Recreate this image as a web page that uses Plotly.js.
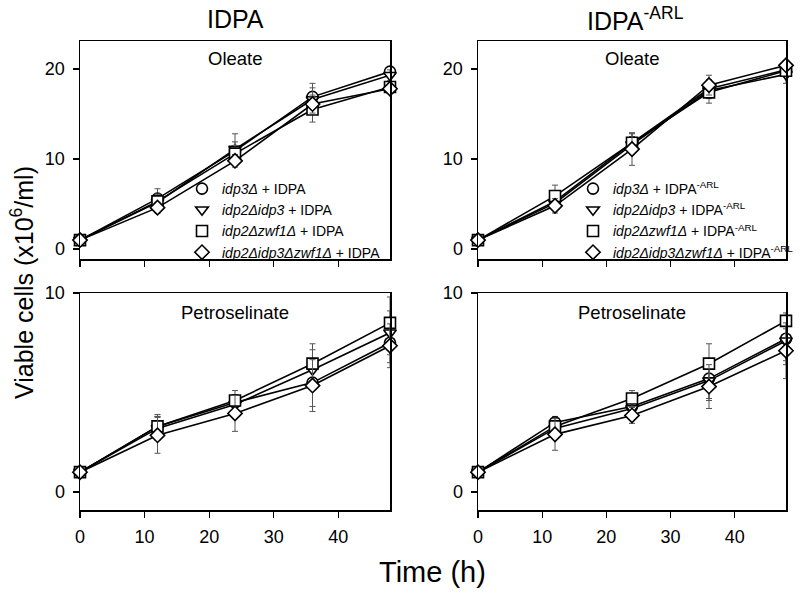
<!DOCTYPE html>
<html>
<head>
<meta charset="utf-8">
<script src="https://cdn.plot.ly/plotly-3.0.1.min.js"></script>
<style>html,body{margin:0;padding:0;background:#fff;}#chart{width:800px;height:594px;}</style>
</head>
<body>
<div id="chart"></div>
<script>
// ---- data ----
var time = [0, 12, 24, 36, 48];

var seriesSymbols = ["circle", "triangle-down", "square", "diamond"];

var legendLabelsIdpa = [
  "<i>idp3Δ</i> + IDPA",
  "<i>idp2Δidp3</i> + IDPA",
  "<i>idp2Δzwf1Δ</i> + IDPA",
  "<i>idp2Δidp3Δzwf1Δ</i> + IDPA"
];
var legendLabelsArl = [
  "<i>idp3Δ</i> + IDPA<sup>-ARL</sup>",
  "<i>idp2Δidp3</i> + IDPA<sup>-ARL</sup>",
  "<i>idp2Δzwf1Δ</i> + IDPA<sup>-ARL</sup>",
  "<i>idp2Δidp3Δzwf1Δ</i> + IDPA<sup>-ARL</sup>"
];

// Oleate, IDPA
var oleIdpa_idp3      = [1.0, 5.6, 10.9, 16.9, 19.7];
var oleIdpa_idp2idp3  = [1.0, 5.2, 11.1, 16.6, 19.3];
var oleIdpa_idp2zwf1  = [1.0, 5.3, 10.6, 15.5, 18.0];
var oleIdpa_triple    = [1.0, 4.6,  9.8, 16.1, 17.8];
var oleIdpaErr_idp3     = [0.1, 1.1, 1.0, 1.5, 0.5];
var oleIdpaErr_idp2idp3 = [0.1, 0.9, 1.7, 1.3, 0.6];
var oleIdpaErr_idp2zwf1 = [0.1, 0.8, 0.9, 1.4, 0.4];
var oleIdpaErr_triple   = [0.1, 0.6, 0.7, 1.0, 0.5];

// Oleate, IDPA-ARL
var oleArl_idp3      = [1.0, 5.3, 11.8, 17.8, 19.9];
var oleArl_idp2idp3  = [1.0, 5.1, 11.6, 17.6, 19.4];
var oleArl_idp2zwf1  = [1.0, 5.9, 11.8, 17.4, 19.8];
var oleArl_triple    = [1.0, 4.8, 11.1, 18.2, 20.4];
var oleArlErr_idp3     = [0.1, 0.8, 1.0, 1.0, 0.6];
var oleArlErr_idp2idp3 = [0.1, 0.7, 0.9, 0.9, 1.0];
var oleArlErr_idp2zwf1 = [0.1, 1.2, 1.1, 1.2, 0.5];
var oleArlErr_triple   = [0.1, 0.8, 1.8, 1.1, 0.4];

// Petroselinate, IDPA
var petIdpa_idp3      = [1.0, 3.3, 4.5, 5.5, 7.5];
var petIdpa_idp2idp3  = [1.0, 3.2, 4.4, 6.15, 8.0];
var petIdpa_idp2zwf1  = [1.0, 3.3, 4.6, 6.45, 8.5];
var petIdpa_triple    = [1.0, 2.85, 3.95, 5.35, 7.35];
var petIdpaErr_idp3     = [0.05, 0.5, 0.4, 1.2, 1.0];
var petIdpaErr_idp2idp3 = [0.05, 0.6, 0.5, 1.0, 1.1];
var petIdpaErr_idp2zwf1 = [0.05, 0.6, 0.5, 1.0, 1.3];
var petIdpaErr_triple   = [0.05, 0.9, 0.9, 1.3, 1.1];

// Petroselinate, IDPA-ARL
var petArl_idp3      = [1.0, 3.5, 4.3, 5.7, 7.7];
var petArl_idp2idp3  = [1.0, 3.2, 4.2, 5.6, 7.6];
var petArl_idp2zwf1  = [1.0, 3.3, 4.7, 6.45, 8.6];
var petArl_triple    = [1.0, 2.9, 3.85, 5.3, 7.1];
var petArlErr_idp3     = [0.05, 0.3, 0.3, 1.0, 1.1];
var petArlErr_idp2idp3 = [0.05, 0.4, 0.4, 1.0, 1.2];
var petArlErr_idp2zwf1 = [0.05, 0.4, 0.4, 1.0, 0.4];
var petArlErr_triple   = [0.05, 0.8, 0.4, 1.1, 1.4];

// tick labels
var xTicks = [0, 10, 20, 30, 40];
var yTicksTop = [0, 10, 20];
var yTicksBottom = [0, 10];

// ---- build ----
var panels = [
  {xa: "x",  ya: "y",  vals: [oleIdpa_idp3, oleIdpa_idp2idp3, oleIdpa_idp2zwf1, oleIdpa_triple],
   errs: [oleIdpaErr_idp3, oleIdpaErr_idp2idp3, oleIdpaErr_idp2zwf1, oleIdpaErr_triple]},
  {xa: "x2", ya: "y2", vals: [oleArl_idp3, oleArl_idp2idp3, oleArl_idp2zwf1, oleArl_triple],
   errs: [oleArlErr_idp3, oleArlErr_idp2idp3, oleArlErr_idp2zwf1, oleArlErr_triple]},
  {xa: "x3", ya: "y3", vals: [petIdpa_idp3, petIdpa_idp2idp3, petIdpa_idp2zwf1, petIdpa_triple],
   errs: [petIdpaErr_idp3, petIdpaErr_idp2idp3, petIdpaErr_idp2zwf1, petIdpaErr_triple]},
  {xa: "x4", ya: "y4", vals: [petArl_idp3, petArl_idp2idp3, petArl_idp2zwf1, petArl_triple],
   errs: [petArlErr_idp3, petArlErr_idp2idp3, petArlErr_idp2zwf1, petArlErr_triple]}
];

var markerStyle = function (i) {
  return {symbol: seriesSymbols[i], size: 11, color: "#fff", line: {color: "#000", width: 1.6}};
};

var traces = [];
panels.forEach(function (p) {
  for (var i = 0; i < 4; i++) {
    traces.push({
      type: "scatter", mode: "lines+markers",
      x: time, y: p.vals[i], xaxis: p.xa, yaxis: p.ya,
      showlegend: false, cliponaxis: false,
      line: {color: "#000", width: 1.6},
      marker: markerStyle(i),
      error_y: {type: "data", array: p.errs[i], visible: true, color: "#555", thickness: 1, width: 3}
    });
  }
});
// legend-only entries (markers only)
for (var i = 0; i < 4; i++) {
  traces.push({type: "scatter", mode: "markers", x: [null], y: [null], xaxis: "x", yaxis: "y",
    name: legendLabelsIdpa[i], legend: "legend", marker: markerStyle(i)});
}
for (var i = 0; i < 4; i++) {
  traces.push({type: "scatter", mode: "markers", x: [null], y: [null], xaxis: "x2", yaxis: "y2",
    name: legendLabelsArl[i], legend: "legend2", marker: markerStyle(i)});
}

var W = 800, H = 594;
function px(x) { return x / W; }
function py(y) { return 1 - y / H; }

var axisBase = {
  showline: true, mirror: true, linecolor: "#000", linewidth: 1.5,
  ticks: "outside", ticklen: 6, tickwidth: 1.3, tickcolor: "#000",
  showgrid: false, zeroline: false, ticklabelstandoff: 4,
  tickfont: {family: "Liberation Sans, Arial, sans-serif", size: 18, color: "#000"}
};
function ax(extra) { return Object.assign({}, axisBase, extra); }

var xL = [px(80), px(390)], xR = [px(478), px(786)];
var yT = [py(259), py(41)], yB = [py(510), py(293)];

function ann(text, x, y, size, extra) {
  return Object.assign({text: text, x: px(x), y: py(y), xref: "paper", yref: "paper",
    xanchor: "center", yanchor: "middle", showarrow: false, font: {size: size, color: "#000"}}, extra || {});
}

var layout = {
  width: W, height: H,
  margin: {l: 0, r: 0, t: 0, b: 0},
  paper_bgcolor: "#fff", plot_bgcolor: "#fff",
  font: {family: "Liberation Sans, Arial, sans-serif", color: "#000"},
  xaxis:  ax({domain: xL, range: [0, 48], tickvals: xTicks, showticklabels: false, anchor: "y"}),
  yaxis:  ax({domain: yT, range: [-1.1, 23.1], tickvals: yTicksTop, anchor: "x"}),
  xaxis2: ax({domain: xR, range: [0, 48], tickvals: xTicks, showticklabels: false, anchor: "y2"}),
  yaxis2: ax({domain: yT, range: [-1.1, 23.1], tickvals: yTicksTop, anchor: "x2"}),
  xaxis3: ax({domain: xL, range: [0, 48], tickvals: xTicks, anchor: "y3"}),
  yaxis3: ax({domain: yB, range: [-0.9, 10], tickvals: yTicksBottom, anchor: "x3"}),
  xaxis4: ax({domain: xR, range: [0, 48], tickvals: xTicks, anchor: "y4"}),
  yaxis4: ax({domain: yB, range: [-0.9, 10], tickvals: yTicksBottom, anchor: "x4"}),
  legend: {x: px(182), y: py(173), xanchor: "left", yanchor: "top", bgcolor: "rgba(0,0,0,0)",
           font: {size: 14, color: "#000"}, itemwidth: 30, tracegroupgap: 0},
  legend2: {x: px(573), y: py(173), xanchor: "left", yanchor: "top", bgcolor: "rgba(0,0,0,0)",
           font: {size: 14, color: "#000"}, itemwidth: 30, tracegroupgap: 0},
  annotations: [
    ann("IDPA", 235, 19, 25),
    ann("IDPA<sup>-ARL</sup>", 635, 19, 25),
    ann("Oleate", 235, 58, 18.5),
    ann("Oleate", 632, 58, 18.5),
    ann("Petroselinate", 235, 312, 18.5),
    ann("Petroselinate", 632, 312, 18.5),
    ann("Viable cells (x10<sup>6</sup>/ml)", 22, 283, 25, {textangle: -90}),
    ann("Time (h)", 432, 572, 29)
  ]
};

Plotly.newPlot("chart", traces, layout, {staticPlot: true});
</script>
</body>
</html>
